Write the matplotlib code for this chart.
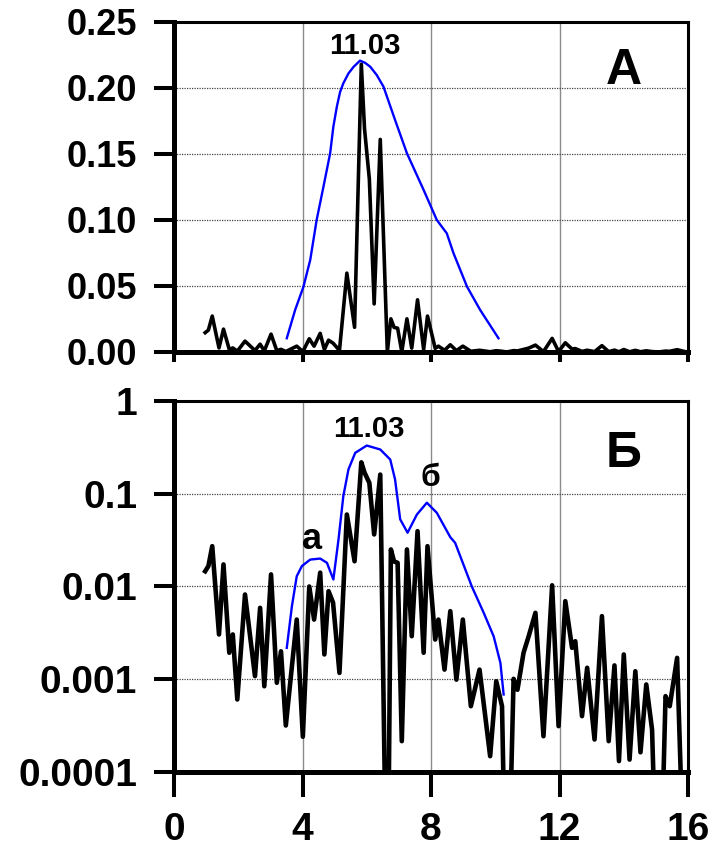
import matplotlib

matplotlib.use("Agg")
import matplotlib.pyplot as plt
from matplotlib.ticker import FixedLocator, FixedFormatter

# spectrum (same series in both panels)
freq = [0.97, 1.07, 1.19, 1.40, 1.54, 1.72, 1.83, 1.97, 2.21, 2.52, 2.68, 2.81, 3.02, 3.20,
        3.33, 3.48, 3.82, 4.01, 4.21, 4.36, 4.55, 4.68, 4.81, 4.95, 5.15, 5.38, 5.62, 5.83,
        5.93, 6.08, 6.23, 6.42, 6.64, 6.75, 6.85, 6.96, 7.09, 7.25, 7.40, 7.58, 7.77, 7.89,
        8.13, 8.23, 8.42, 8.60, 8.79, 8.99, 9.24, 9.51, 9.84, 10.03, 10.21, 10.36, 10.57,
        10.69, 10.88, 11.04, 11.25, 11.50, 11.77, 11.97, 12.18, 12.39, 12.49, 12.70, 12.86,
        13.09, 13.32, 13.53, 13.71, 13.85, 14.00, 14.18, 14.36, 14.52, 14.70, 14.88, 15.09,
        15.30, 15.43, 15.66, 15.95, 16.07]
power = [0.0146, 0.0166, 0.0272, 0.00304, 0.0173, 0.00193, 0.00304, 0.000605, 0.0082,
         0.00108, 0.00589, 0.00084, 0.0135, 0.000916, 0.0020, 0.000317, 0.0044, 0.00024,
         0.0100, 0.0044, 0.0141, 0.00185, 0.0089, 0.0067, 0.00117, 0.0597, 0.0187, 0.218,
         0.169, 0.131, 0.0364, 0.161, 1e-6, 0.0251, 0.0186, 0.0180, 0.000215, 0.0251,
         0.00291, 0.0395, 0.00193, 0.0272, 0.00268, 0.0044, 0.00127, 0.00542, 0.00099,
         0.0044, 0.000512, 0.00127, 0.000148, 0.00095, 0.000512, 1e-6, 0.00101, 0.00077,
         0.00193, 0.00291, 0.0052, 0.000243, 0.0103, 0.000312, 0.00695, 0.00218, 0.00257,
         0.0004, 0.00133, 0.000224, 0.00479, 0.000215, 0.00141, 0.000131, 0.00185,
         0.000136, 0.00122, 0.000163, 0.000878, 0.000287, 1e-6, 0.000657, 0.000512, 0.0017,
         1e-6, 0.000605]

# envelope, top panel (linear)
env_a_x = [3.51, 3.77, 4.03, 4.24, 4.44, 4.65, 4.86, 4.96, 5.07, 5.17, 5.27, 5.43, 5.59,
           5.79, 5.95, 6.11, 6.31, 6.52, 6.88, 7.25, 7.77, 8.18, 8.49, 8.70, 9.12, 9.53,
           10.10]
env_a_y = [0.0104, 0.0318, 0.0495, 0.0697, 0.100, 0.125, 0.1505, 0.1707, 0.186, 0.197,
           0.2035, 0.211, 0.216, 0.2207, 0.219, 0.216, 0.2098, 0.201, 0.1758, 0.1505,
           0.1227, 0.100, 0.0899, 0.0748, 0.0495, 0.0318, 0.0104]

# envelope, bottom panel (log)
env_b_x = [3.51, 3.67, 3.82, 3.98, 4.24, 4.55, 4.76, 4.96, 5.12, 5.27, 5.43, 5.64, 6.00,
           6.42, 6.73, 6.88, 7.04, 7.27, 7.56, 7.87, 8.18, 8.60, 8.75, 9.27, 9.64, 9.95,
           10.16, 10.26]
env_b_y = [0.00218, 0.00614, 0.0129, 0.0166, 0.0195, 0.0200, 0.0180, 0.0119, 0.0321, 0.094,
           0.183, 0.276, 0.331, 0.300, 0.234, 0.143, 0.053, 0.038, 0.0597, 0.080, 0.0623,
           0.034, 0.0296, 0.010, 0.0052, 0.0029, 0.0015, 0.000685]

x_ticks = [0, 4, 8, 12, 16]
top_ticks = [0.0, 0.05, 0.10, 0.15, 0.20, 0.25]
top_labels = ["0.00", "0.05", "0.10", "0.15", "0.20", "0.25"]
log_ticks = [1e-4, 1e-3, 1e-2, 1e-1, 1]
log_labels = ["0.0001", "0.001", "0.01", "0.1", "1"]

FONT = ["Liberation Sans", "DejaVu Sans"]
plt.rcParams["font.family"] = FONT


def style_axes(ax):
    ax.set_xlim(0, 16)
    ax.xaxis.set_major_locator(FixedLocator(x_ticks))
    for side in ("left", "bottom"):
        ax.spines[side].set_linewidth(3.6)
    for side in ("top", "right"):
        ax.spines[side].set_linewidth(2.2)
    ax.tick_params(which="major", direction="out", width=2.9, colors="black")
    ax.tick_params(axis="y", length=14.5, pad=12)
    ax.tick_params(which="minor", length=0)
    ax.grid(True, axis="y", color="#444444", linestyle=(0, (1, 1)), linewidth=0.9)
    ax.grid(True, axis="x", color="#8a8a8a", linestyle="-", linewidth=1.0)
    ax.set_axisbelow(True)


fig = plt.figure(figsize=(7.17, 8.57), dpi=100)
ax1 = fig.add_axes([0.2427, 0.5893, 0.7169, 0.3851])
ax2 = fig.add_axes([0.2427, 0.0992, 0.7169, 0.4329])

# top panel
style_axes(ax1)
ax1.plot(freq, power, color="black", linewidth=2.6, solid_joinstyle="round")
ax1.plot(env_a_x, env_a_y, color="#0000ff", linewidth=1.7)
ax1.set_ylim(0, 0.25)
ax1.yaxis.set_major_locator(FixedLocator(top_ticks))
ax1.yaxis.set_major_formatter(FixedFormatter(top_labels))
ax1.tick_params(axis="x", length=7, labelbottom=False)
for lab in ax1.get_yticklabels():
    lab.set_fontsize(26)
    lab.set_fontweight("bold")
ax1.text(5.95, 0.2215, "11.03", ha="center", va="bottom", fontsize=21,
         fontweight="bold")
ax1.text(14.0, 0.2125, "А", ha="center", va="center", fontsize=36,
         fontweight="bold")

# bottom panel
style_axes(ax2)
ax2.set_yscale("log")
ax2.plot(freq, power, color="black", linewidth=3.3, solid_joinstyle="round")
ax2.plot(env_b_x, env_b_y, color="#0000ff", linewidth=1.7)
ax2.set_ylim(1e-4, 1)
ax2.yaxis.set_major_locator(FixedLocator(log_ticks))
ax2.yaxis.set_major_formatter(FixedFormatter(log_labels))
ax2.yaxis.set_minor_locator(FixedLocator([]))
ax2.tick_params(axis="x", length=18, pad=11)
for lab in ax2.get_yticklabels() + ax2.get_xticklabels():
    lab.set_fontsize(28)
    lab.set_fontweight("bold")
ax2.text(6.05, 0.35, "11.03", ha="center", va="bottom", fontsize=21,
         fontweight="bold")
ax2.text(4.3, 0.021, "а", ha="center", va="bottom", fontsize=26,
         fontweight="bold")
ax2.text(7.97, 0.102, "б", ha="center", va="bottom", fontsize=23,
         fontweight="bold")
ax2.text(14.0, 0.27, "Б", ha="center", va="center", fontsize=36,
         fontweight="bold")

fig.savefig("out.png", dpi=100)
